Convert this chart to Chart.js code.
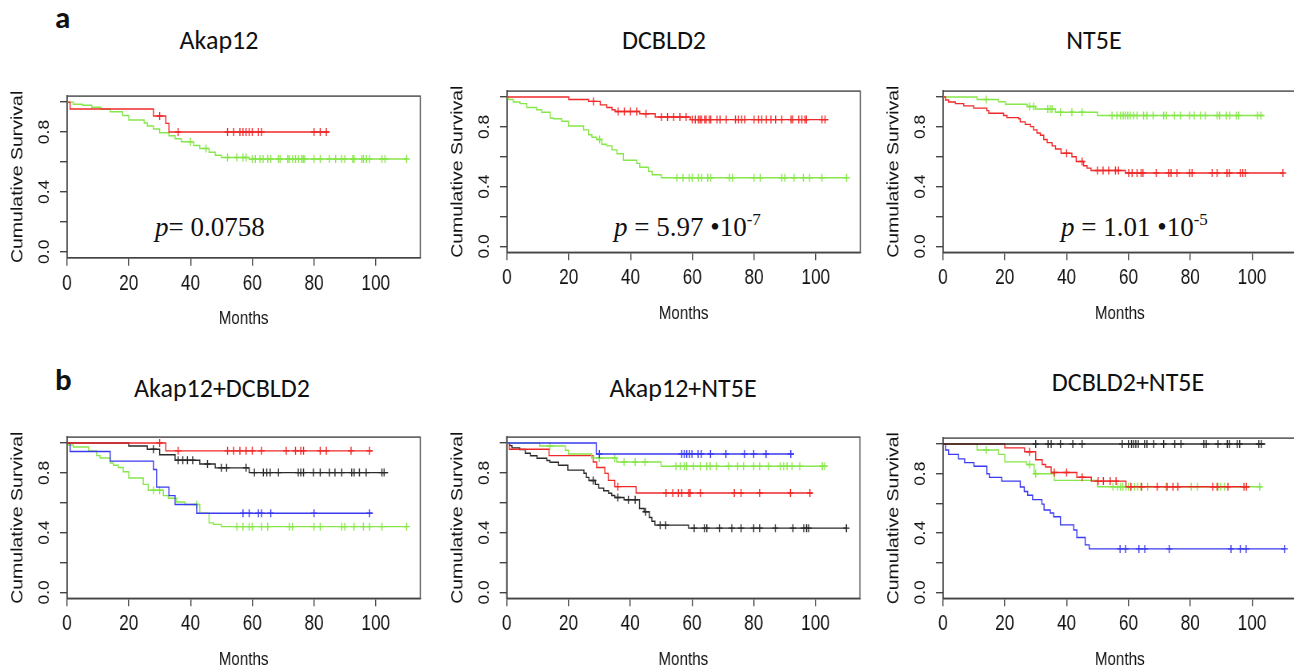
<!DOCTYPE html>
<html>
<head>
<meta charset="utf-8">
<script src="https://cdn.jsdelivr.net/npm/chart.js@4.4.1/dist/chart.umd.min.js"></script>
<style>
  html, body { margin: 0; padding: 0; background: #fff; }
  #page { position: relative; width: 1294px; height: 670px; overflow: hidden; background: #fff; }
  canvas { position: absolute; transform-origin: 0 0; }
  .lbl { position: absolute; font-family: Carlito, Calibri, Lato, sans-serif; color: #111; white-space: nowrap; line-height: 1; }
  .ttl { font-size: 26px; transform: translateX(-50%); }
  .tag { font-size: 31px; font-weight: bold; }
  .pv { position: absolute; font-family: 'Liberation Serif', 'Times New Roman', serif; font-size: 27px; line-height: 1; color: #111; white-space: nowrap; }
  .pv sup { font-size: 17px; vertical-align: 11px; line-height: 0; }
</style>
</head>
<body>
<div id="page">
  <div class="lbl tag" style="left:55px; top:2px;">a</div>
  <div class="lbl tag" style="left:55px; top:364px;">b</div>

  <div class="lbl ttl" style="left:219px; top:27px;">Akap12</div>
  <div class="lbl ttl" style="left:664px; top:27px;">DCBLD2</div>
  <div class="lbl ttl" style="left:1094px; top:27px;">NT5E</div>
  <div class="lbl ttl" style="left:222px; top:375px;">Akap12+DCBLD2</div>
  <div class="lbl ttl" style="left:683px; top:375px;">Akap12+NT5E</div>
  <div class="lbl ttl" style="left:1128px; top:369px;">DCBLD2+NT5E</div>

  <div class="pv" style="left:155px; top:214px;"><i>p</i>= 0.0758</div>
  <div class="pv" style="left:614px; top:214px;"><i>p</i> = 5.97 •10<sup>-7</sup></div>
  <div class="pv" style="left:1061px; top:214px;"><i>p</i> = 1.01 •10<sup>-5</sup></div>
</div>

<script>
// 目盛り
const xTicks = [0, 20, 40, 60, 80, 100];
const yTicks = [0, 0.2, 0.4, 0.6, 0.8, 1.0];
const yLabels = [0, 0.4, 0.8];

// 色
const RED = '#f02828';
const GREEN = '#86e64a';
const BLUE = '#3a3af0';
const BLACK = '#2a2a2a';

// --- Akap12 ---  [月, 生存率]
const p1Red = [[0,1],[1,0.954],[28,0.907],[32,0.858],[33,0.80],[85,0.80]];
const p1RedCens = [30,36,52,54,56,57,58,59,60,62,63,80,82,84];
const p1Green = [[0,1],[2,0.986],[5,0.979],[8,0.965],[11,0.952],[14,0.935],[18,0.91],[20,0.88],[25,0.86],[26,0.84],[28,0.82],[30,0.795],[33,0.775],[35,0.755],[37,0.735],[41,0.71],[43,0.69],[46,0.665],[48,0.645],[50,0.63],[59,0.62],[110,0.62]];
const p1GreenCens = [40,45,52,55,57,58,60,61,62.5,63.5,65,66,68.5,69,71.5,72,73,74,75,76,76.5,77,80,82,85,87,89,90,92.5,93,95.5,96,97,98,102,103,110];

// --- DCBLD2 ---
const p2Red = [[0,1],[20,0.984],[26.4,0.971],[30.2,0.948],[32.3,0.93],[34,0.915],[35,0.903],[43,0.888],[48,0.866],[59.4,0.849],[104,0.849]];
const p2RedCens = [28,36,38,40,42,45,50,52,54,56,58,60,61,62,62.5,63,64,64.5,65.5,66,68,69,71,74,75,76,77,80,81.5,82.5,84,85.5,87,89,92,92.5,94.5,95.5,96.5,97,102,103];
const p2Green = [[0,1],[0.4,0.984],[2,0.967],[4.2,0.956],[6.4,0.93],[9.6,0.915],[11.2,0.898],[14,0.86],[15,0.855],[17.7,0.838],[19.9,0.806],[24.8,0.78],[26.4,0.748],[27.5,0.731],[29,0.716],[30.7,0.684],[32.3,0.673],[34,0.646],[35.6,0.62],[37.7,0.577],[42,0.556],[43,0.53],[45.8,0.502],[47,0.48],[50,0.459],[110,0.459]];
const p2GreenCens = [30,55,57,59,60,62,63,65,66,72,73,80,82,89,90,93,96,98,102,110];

// --- NT5E ---
const p3Green = [[0,1],[11,0.984],[18,0.969],[20.2,0.952],[27.2,0.937],[29.9,0.92],[36.4,0.898],[50,0.877],[104,0.877]];
const p3GreenCens = [14,28,29.3,33.9,34.7,35.3,38,41.7,45,54.7,56.3,57.4,58.3,59,59.8,60.6,61.7,62.8,64.9,66,68,71.4,72.3,74.9,76.8,79.8,81.3,83.3,84.9,88.7,89.5,91.7,92.8,94.9,95.7,101.8,102.9];
const p3Red = [[0,1],[0.8,0.98],[1.8,0.967],[4,0.956],[6.7,0.941],[9.9,0.926],[14.2,0.909],[14.8,0.892],[19.6,0.877],[20.7,0.862],[24.5,0.855],[25,0.834],[26.6,0.817],[28.3,0.802],[29.3,0.78],[30.4,0.759],[31.5,0.744],[32.6,0.716],[33.7,0.695],[35.3,0.673],[36.4,0.652],[38.2,0.624],[41.7,0.6],[43.1,0.568],[45.5,0.54],[46.6,0.524],[47.9,0.508],[59,0.491],[110,0.491]];
const p3RedCens = [40,45,50,51.8,53.6,55.8,56.8,60.1,61.2,62.8,64.1,64.7,69,73,73.8,75.7,79.8,80.6,87.1,88.7,91.9,92.7,96.2,97,97.8,110];

// --- Akap12+DCBLD2 ---
const p4Red = [[0,1],[32,0.948],[99,0.948]];
const p4RedCens = [30,36,52,54,56,58,60,63,71,74,75.7,76.6,82,84,92,98];
const p4Black = [[0,1],[20,0.98],[26,0.959],[30,0.922],[35,0.885],[43,0.86],[48,0.834],[59,0.802],[104,0.802]];
const p4BlackCens = [28,36,37.5,39,40.7,45.5,50,51.7,58,60.7,63.6,64.7,65.8,68.5,74.9,75.7,76.6,79.8,82,85,86.8,89,92.2,93,94.7,96.9,102,102.7];
const p4Blue = [[0,1],[1,0.944],[14,0.879],[28,0.823],[29,0.705],[33,0.648],[35,0.588],[42,0.53],[99,0.53]];
const p4BlueCens = [57,59,62,63,66,80,98];
const p4Green = [[0,1],[0.5,0.987],[2,0.974],[7,0.948],[9.6,0.916],[10.7,0.9],[14,0.866],[15,0.851],[16.6,0.836],[18.2,0.808],[20,0.766],[24.7,0.723],[26.3,0.684],[31.2,0.648],[32.8,0.63],[35.5,0.605],[38.2,0.588],[43,0.53],[46,0.465],[47.4,0.455],[50,0.44],[110,0.44]];
const p4GreenCens = [28,30,42,55,57,59,60,63,65,72,73,80,82,89,90,93,96,98,102,110];

// --- Akap12+NT5E ---
const p5Blue = [[0,1],[29,0.927],[93,0.927]];
const p5BlueCens = [30,56.7,57.5,58.3,59.2,60,62,63,66,71,77,80,84,92];
const p5Green = [[0,1],[10.7,0.98],[19,0.952],[20,0.927],[27.5,0.9],[35.6,0.873],[50,0.845],[104,0.845]];
const p5GreenCens = [14,30,35,38,41.6,44.8,54.8,56.2,57.5,58.3,60.5,62.7,64.8,65.9,67.9,71.9,74.8,76.7,80,81.9,84.8,88.6,89.7,90.8,92.4,94.9,102.2,102.9];
const p5Red = [[0,1],[0.8,0.959],[13.7,0.916],[28,0.873],[29.1,0.836],[31.8,0.797],[32.9,0.75],[35,0.708],[41.9,0.665],[99,0.665]];
const p5RedCens = [36,51.6,53.8,55.6,56.7,58.9,59.4,62.7,73.7,75.9,81.9,91.9,98.2];
const p5Black = [[0,1],[1,0.983],[1.7,0.968],[4.2,0.957],[6,0.932],[7.7,0.915],[9.8,0.898],[13,0.883],[14,0.872],[16.8,0.851],[19.8,0.819],[25,0.798],[25.8,0.77],[26.6,0.749],[28.7,0.723],[29.8,0.698],[31.4,0.681],[33,0.664],[34,0.649],[35,0.635],[38,0.62],[43,0.562],[44.5,0.54],[46.2,0.501],[47,0.476],[48,0.45],[58.9,0.43],[110,0.43]];
const p5BlackCens = [28,36,39.4,41.6,45,49.7,51.5,60.7,64,64.8,68.9,72.9,75.9,80,81.9,87,92.7,96.2,97.1,97.8,110];

// --- DCBLD2+NT5E ---
const p6Black = [[0,1],[104.3,1]];
const p6BlackCens = [30,34,35,38,42,45,58,60,61,61.7,62.4,63.2,65.2,66,68.2,71.4,75,77,84.4,85.2,89,92,92.7,95.2,96,102.2,103];
const p6Red = [[0,1],[20,0.974],[26.4,0.948],[30,0.894],[32.1,0.862],[33.2,0.845],[35,0.808],[43.3,0.776],[48,0.75],[59.2,0.712],[99.2,0.712]];
const p6RedCens = [28,36,40,45,50.2,51.9,54.1,56,60.8,64.3,69.3,72.5,74.4,76,87.3,88.7,92.2,97.4,98.2];
const p6Green = [[0,1],[11,0.96],[18,0.93],[20,0.88],[27,0.862],[29.5,0.80],[36,0.755],[50,0.712],[103,0.712]];
const p6GreenCens = [14,28,30,55,56.5,57.4,58.2,59.2,60,60.8,62,63,64,66.2,72.2,76,80.3,82.3,89,89.8,91.1,102.5];
const p6Blue = [[0,1],[0.8,0.96],[1.8,0.93],[5,0.9],[7,0.875],[10,0.85],[14.2,0.8],[15,0.775],[19,0.75],[25,0.71],[26.3,0.68],[27.4,0.655],[29,0.625],[32,0.595],[32.7,0.555],[34.7,0.535],[35.8,0.51],[38,0.455],[42.3,0.42],[43.3,0.37],[46,0.32],[47.3,0.293],[110.5,0.293]];
const p6BlueCens = [57.3,59.1,63.4,65.3,73.2,93.2,96.2,98.1,110.5];

// 打ち切り時点の生存率を階段関数から取る
function survAt(steps, t) {
  let s = steps[0][1];
  for (const [x, y] of steps) { if (x <= t) s = y; }
  return s;
}

const SANS = "'Liberation Sans', Arial, sans-serif";
const INK = '#444';
const TXT = '#111';
const K = 0.8; // 元図は横方向に少し縮んでいるので canvas を横に縮める

// 枠線
const boxPlugin = {
  id: 'box',
  beforeDatasetsDraw(chart) {
    const { ctx, chartArea: a } = chart;
    ctx.save();
    ctx.strokeStyle = INK;
    ctx.lineWidth = 1.4;
    ctx.strokeRect(a.left, a.top, a.right - a.left, a.bottom - a.top);
    ctx.restore();
  }
};

function makePanel(box, curves) {
  const page = document.getElementById('page');
  const cv = document.createElement('canvas');
  const left = Math.round(box.l) - 67;
  const top = Math.round(box.t) - 10;
  const width = Math.ceil(box.r) + 10 - left;
  const height = Math.ceil(box.b) + 72 - top;
  const iw = Math.round(width / K);
  cv.width = iw; cv.height = height;
  cv.style.left = left + 'px'; cv.style.top = top + 'px';
  cv.style.transform = 'scaleX(' + (width / iw) + ')';
  page.appendChild(cv);

  const sx = iw / width;
  const yW = (box.l - left) * sx;
  const padR = (left + width - box.r) * sx;
  const xH = top + height - box.b;

  const datasets = [];
  curves.forEach(c => {
    datasets.push({
      data: c.steps.map(([x, y]) => ({ x, y })),
      stepped: true, borderColor: c.color, borderWidth: 1.4,
      pointRadius: 0, fill: false
    });
    datasets.push({
      data: c.cens.map(t => ({ x: t, y: survAt(c.steps, t) })),
      showLine: false, pointStyle: 'cross', pointRadius: 4,
      pointBorderWidth: 1.4, borderColor: c.color, backgroundColor: c.color
    });
  });

  new Chart(cv, {
    type: 'line',
    data: { datasets },
    plugins: [boxPlugin],
    options: {
      responsive: false,
      animation: false,
      devicePixelRatio: 1,
      layout: { autoPadding: false, padding: { left: 0, top: box.t - top, right: padR, bottom: 0 } },
      plugins: { legend: { display: false }, tooltip: { enabled: false } },
      scales: {
        x: {
          type: 'linear', min: 0, max: 114.4,
          afterBuildTicks: s => { s.ticks = xTicks.map(v => ({ value: v })); },
          afterFit: s => { s.height = xH; },
          ticks: { font: { family: SANS, size: 21.5 }, color: TXT, padding: 5, autoSkip: false, maxRotation: 0 },
          grid: { drawOnChartArea: false, drawTicks: true, tickLength: 8, color: INK, lineWidth: 1.4 },
          border: { display: true, color: INK, width: 1.4 },
          title: { display: true, text: 'Months', font: { family: SANS, size: 19 }, color: TXT, padding: { top: 0, bottom: 0 } }
        },
        y: {
          type: 'linear', min: -0.04, max: 1.04,
          afterBuildTicks: s => { s.ticks = yTicks.map(v => ({ value: v })); },
          afterFit: s => { s.width = yW; },
          ticks: {
            font: { family: SANS, size: 17.5 }, color: TXT, padding: 6.6, autoSkip: false,
            minRotation: 90, maxRotation: 90, crossAlign: 'center',
            callback: v => yLabels.some(l => Math.abs(l - v) < 1e-6) ? v.toFixed(1) : ''
          },
          grid: { drawOnChartArea: false, drawTicks: true, tickLength: 7 * sx, color: INK, lineWidth: 1.4 },
          border: { display: true, color: INK, width: 1.6 },
          title: { display: true, text: 'Cumulative Survival', font: { family: SANS, size: 19.5 }, color: TXT, padding: { top: 11, bottom: 0 } }
        }
      }
    }
  });
}

makePanel({ l: 67, t: 89, r: 420.2, b: 257.7 }, [
  { steps: p1Red, cens: p1RedCens, color: RED },
  { steps: p1Green, cens: p1GreenCens, color: GREEN }
]);
makePanel({ l: 507, t: 84.3, r: 860.2, b: 252.3 }, [
  { steps: p2Red, cens: p2RedCens, color: RED },
  { steps: p2Green, cens: p2GreenCens, color: GREEN }
]);
makePanel({ l: 943, t: 84.3, r: 1296.5, b: 252.3 }, [
  { steps: p3Red, cens: p3RedCens, color: RED },
  { steps: p3Green, cens: p3GreenCens, color: GREEN }
]);
makePanel({ l: 67, t: 429.5, r: 420.2, b: 598.3 }, [
  { steps: p4Red, cens: p4RedCens, color: RED },
  { steps: p4Black, cens: p4BlackCens, color: BLACK },
  { steps: p4Blue, cens: p4BlueCens, color: BLUE },
  { steps: p4Green, cens: p4GreenCens, color: GREEN }
]);
makePanel({ l: 506.7, t: 430, r: 859.9, b: 598.3 }, [
  { steps: p5Blue, cens: p5BlueCens, color: BLUE },
  { steps: p5Green, cens: p5GreenCens, color: GREEN },
  { steps: p5Red, cens: p5RedCens, color: RED },
  { steps: p5Black, cens: p5BlackCens, color: BLACK }
]);
makePanel({ l: 943, t: 430.5, r: 1296.5, b: 598.3 }, [
  { steps: p6Black, cens: p6BlackCens, color: BLACK },
  { steps: p6Red, cens: p6RedCens, color: RED },
  { steps: p6Green, cens: p6GreenCens, color: GREEN },
  { steps: p6Blue, cens: p6BlueCens, color: BLUE }
]);
</script>
</body>
</html>
